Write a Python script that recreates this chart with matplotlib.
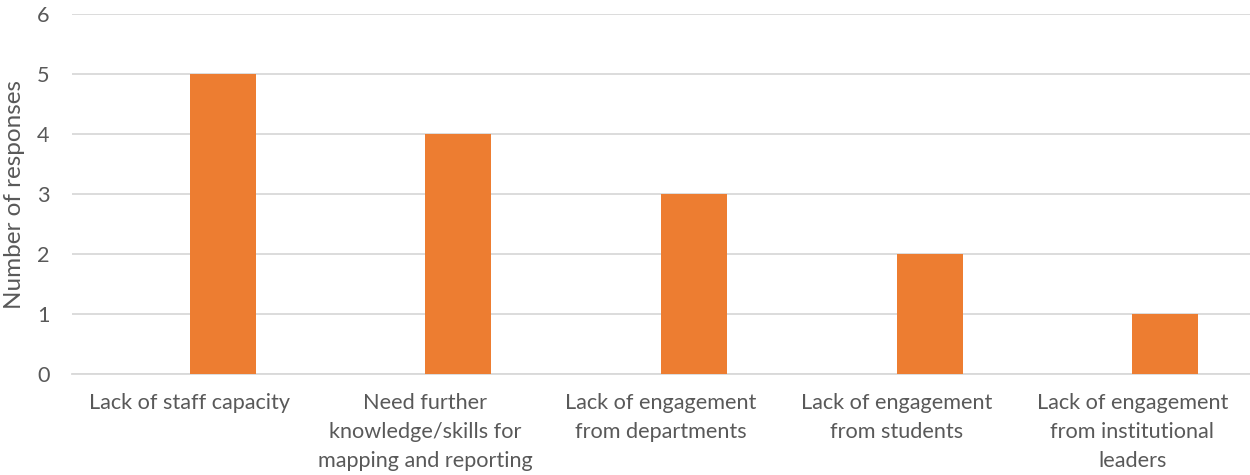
import numpy as np
import matplotlib
matplotlib.use('Agg')
import matplotlib.pyplot as plt

#chart data
categories = ['Lack of staff capacity',
              'Need further\nknowledge/skills for\nmapping and reporting',
              'Lack of engagement\nfrom departments',
              'Lack of engagement\nfrom students',
              'Lack of engagement\nfrom institutional\nleaders']
responses = [5, 4, 3, 2, 1]
yticks = [0, 1, 2, 3, 4, 5, 6]

plt.rcParams['font.family'] = ['Lato', 'DejaVu Sans']
txt = '#595959'
grid = '#D9D9D9'
fs = 15.6

fig = plt.figure(figsize=(12.5, 4.75), dpi=100)
ax = fig.add_axes([0.0576, 0.2126, 0.9424, 0.7579])

x = np.arange(len(categories))
#bars sit right of the category centre, like excel with an empty first series
ax.bar(x, responses, width=0.28, align='edge', color='#ED7D31', zorder=3)

ax.set_xlim(-0.5, len(categories) - 0.5)
ax.set_ylim(0, 6)
ax.set_yticks(yticks)
ax.set_xticks(x)
ax.set_xticklabels(categories, fontsize=fs, color=txt, linespacing=1.55)
ax.tick_params(axis='y', labelsize=fs, colors=txt, length=0, pad=16)
ax.tick_params(axis='x', length=0, pad=14)
ax.grid(axis='y', color=grid, linewidth=1.3, zorder=0)
for s in ['top', 'right', 'left']:
    ax.spines[s].set_visible(False)
ax.spines['bottom'].set_color(grid)
ax.spines['bottom'].set_linewidth(1.3)
ax.set_ylabel('Number of responses', fontsize=17.5, color=txt)
ax.yaxis.set_label_coords(-0.04, 0.5)

fig.savefig('out.png', dpi=100)
